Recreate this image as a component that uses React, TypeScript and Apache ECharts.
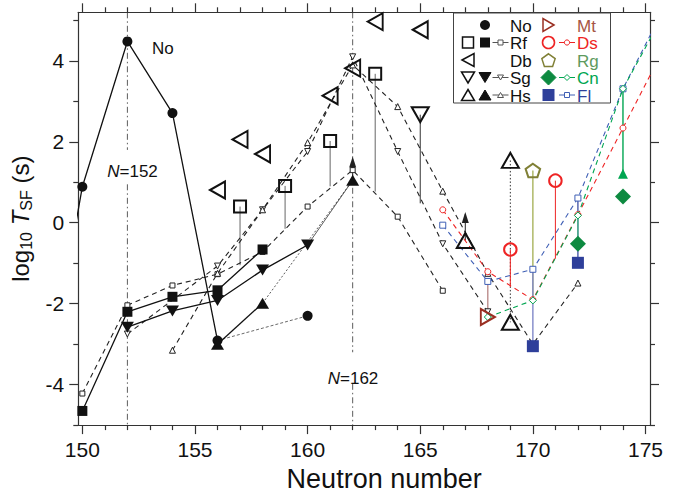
import React, { useEffect, useRef } from 'react';
import * as echarts from 'echarts';

const FONT = "'Liberation Sans', Arial, Helvetica, sans-serif";

// axis ticks
const xMajor = [150, 155, 160, 165, 170, 175];
const xMinor = [151, 152, 153, 154, 156, 157, 158, 159, 161, 162, 163, 164, 166, 167, 168, 169, 171, 172, 173, 174];
const yMajor = [-4, -2, 0, 2, 4];
const yMinor = [-5, -3, -1, 1, 3, 5];

// No (Z=102)
const noLine = [[148, -5.4], [150, 0.89], [152, 4.48], [154, 2.71], [156, -2.91]];
const noTail = [[156, -2.91], [160, -2.3]];

// Rf (Z=104)
const rfFilled = [[150, -4.65], [152, -2.2], [154, -1.83], [156, -1.67], [158, -0.66]];
const rfTheory = [[150, -4.22], [152, -2.04], [154, -1.55], [156, -1.27], [158, -0.72], [160, 0.4], [162, 1.3], [164, 0.15], [166, -1.68]];
const rfOpen = [[157, 0.4], [159, 0.91], [161, 2.02], [163, 3.68]];
const rfLinks = [[157, 0.4, -1.05], [159, 0.91, -0.15], [161, 2.02, 0.9], [163, 3.68, 0.77]];

// Db (Z=105)
const dbOpen = [[156, 0.81], [157, 2.06], [158, 1.7], [161, 3.14], [162, 3.82], [163, 4.97], [165, 4.77]];

// Sg (Z=106)
const sgFilled = [[152, -2.58], [154, -2.18], [156, -1.92], [158, -1.17], [160, -0.55]];
const sgFilledTail = [[160, -0.55], [162, 1.05]];
const sgTheory = [[152, -2.75], [156, -1.07], [158, 0.32], [160, 1.76], [162, 4.1], [164, 1.76], [166, -0.52], [168, -2.2]];
const sgOpen = [[165, 2.67]];
const sgLinks = [[165, 2.67, 0.48]];

// Hs (Z=108)
const hsFilled = [[156, -3.0], [158, -1.99]];
const hsFilledTail = [[158, -1.99], [162, 1.05]];
const hsFilledPt = [[162, 1.05]];
const hsTheory = [[154, -3.15], [156, -1.25], [158, 0.32], [160, 1.98], [162, 3.9], [164, 2.87], [166, 0.78], [168, -1.25], [170, -3.0], [172, -1.49]];
const hsOpen = [[167, -0.44], [169, 1.54], [169, -2.46]];
const hsArrows = [[162, 1.05, 1.58], [167, -0.44, 0.21]];
const hsDotted = [[169, 1.54, -2.46]];

// Mt (Z=109)
const mtOpen = [[168, -2.33]];
const mtLinks = [[168, -2.33, -1.45]];

// Ds (Z=110)
const dsOpen = [[169, -0.66], [171, 1.04]];
const dsTheory = [[166, 0.32], [168, -1.21], [170, -1.9], [172, 0.2], [174, 2.34], [176, 4.5]];
const dsLinks = [[169, -0.66, -1.58], [171, 1.04, -0.89]];

// Rg (Z=111)
const rgOpen = [[170, 1.29]];
const rgLinks = [[170, 1.29, -1.85]];

// Cn (Z=112)
const cnFilled = [[172, -0.52], [174, 0.65]];
const cnTri = [[174, 1.21]];
const cnTheory = [[168, -2.33], [170, -1.92], [172, 0.18], [174, 3.31], [176, 5.35]];
const cnLinks = [[172, -0.52, 0.18], [174, 1.21, 3.31]];

// Fl (Z=114)
const flFilled = [[170, -3.05], [172, -0.99]];
const flTheory = [[166, -0.06], [168, -1.45], [170, -1.15], [172, 0.61], [174, 3.31], [176, 5.5]];
const flLinks = [[170, -3.05, -1.15], [172, -0.99, 0.61]];

const magicN = [152, 162];

const XMIN = 149.82, XMAX = 175.2, YMIN = -5, YMAX = 5.2;

const C = {
  black: '#111',
  gray: '#666',
  mt: '#9a2f22',
  mtText: '#a65544',
  mtLink: '#b07a78',
  ds: '#ee2424',
  rg: '#808036',
  rgText: '#5e9a5e',
  rgLink: '#a9b45e',
  cn: '#00a651',
  cnFill: '#0d8a40',
  fl: '#2e3f9a',
  flLine: '#3f5fb5',
  flLink: '#8088c8',
};

const PENT = 'path://M50,0 L97.55,34.55 L79.39,90.45 L20.61,90.45 L2.45,34.55 Z';
const NONE = 'rgba(255,255,255,0)';

function scatter(data: number[][], symbol: string, size: any, fill: string, stroke: string, bw: number, rotate = 0, z = 6) {
  return {
    type: 'scatter', data, symbol, symbolSize: size, symbolRotate: rotate, silent: true, z,
    itemStyle: { color: fill, borderColor: stroke, borderWidth: bw, opacity: 1 },
  };
}

function line(data: number[][], color: string, width: number, type: any, z = 3) {
  return {
    type: 'line', data, symbol: 'none', silent: true, z,
    lineStyle: { color, width, type },
  };
}

function markedLine(data: number[][], color: string, symbol: string, size: number, rotate = 0, z = 4) {
  return {
    type: 'line', data, symbol, symbolSize: size, symbolRotate: rotate, showSymbol: true, silent: true, z,
    lineStyle: { color, width: 1.1, type: [5, 4] },
    itemStyle: { color: '#fff', borderColor: color, borderWidth: 1 },
  };
}

function links(arr: number[][], color: string, width = 1, type: any = 'solid') {
  return arr.map(([x, a, b]) => line([[x, a], [x, b]], color, width, type, 2));
}

function tri(cx: number, cy: number, w: number, h: number, dir: string) {
  if (dir === 'up') return [[cx, cy - h / 2], [cx + w / 2, cy + h / 2], [cx - w / 2, cy + h / 2]];
  if (dir === 'down') return [[cx, cy + h / 2], [cx + w / 2, cy - h / 2], [cx - w / 2, cy - h / 2]];
  if (dir === 'left') return [[cx - w / 2, cy], [cx + w / 2, cy - h / 2], [cx + w / 2, cy + h / 2]];
  return [[cx + w / 2, cy], [cx - w / 2, cy - h / 2], [cx - w / 2, cy + h / 2]];
}

function buildLegend() {
  const g: any[] = [];
  const Z = 20;
  const rows = [25, 42.5, 60, 77.5, 95];
  g.push({ type: 'rect', shape: { x: 453.5, y: 13, width: 157, height: 90 }, style: { fill: '#fff', stroke: '#444', lineWidth: 1 }, z: Z });
  const txt = (x: number, y: number, t: string, fill: string) => ({
    type: 'text', x, y, z: Z + 1,
    style: { text: t, fill, fontSize: 17, fontFamily: FONT, align: 'left', verticalAlign: 'middle' },
  });
  const poly = (pts: number[][], fill: string, stroke: string, lw: number) => ({
    type: 'polygon', shape: { points: pts }, style: { fill, stroke, lineWidth: lw }, z: Z + 1,
  });
  const seg = (x1: number, x2: number, y: number, color: string) => ({
    type: 'line', shape: { x1, y1: y, x2, y2: y }, style: { stroke: color, lineWidth: 1 }, z: Z + 1,
  });
  // left column
  const xo = 468, xf = 485, xs = 500.5, xl = 510;
  g.push({ type: 'circle', shape: { cx: xf, cy: rows[0], r: 5 }, style: { fill: C.black }, z: Z + 1 });
  g.push(txt(xl, rows[0] + 1, 'No', C.black));
  g.push({ type: 'rect', shape: { x: xo - 5.5, y: rows[1] - 5.5, width: 11, height: 11 }, style: { fill: '#fff', stroke: C.black, lineWidth: 1.5 }, z: Z + 1 });
  g.push({ type: 'rect', shape: { x: xf - 5, y: rows[1] - 5, width: 10, height: 10 }, style: { fill: C.black }, z: Z + 1 });
  g.push(seg(492.5, 508.5, rows[1], '#555'));
  g.push({ type: 'rect', shape: { x: xs - 2.5, y: rows[1] - 2.5, width: 5, height: 5 }, style: { fill: '#fff', stroke: '#555', lineWidth: 1 }, z: Z + 2 });
  g.push(txt(xl, rows[1] + 1, 'Rf', C.black));
  g.push(poly(tri(xo, rows[2], 12, 13, 'left'), '#fff', C.black, 1.5));
  g.push(txt(xl, rows[2] + 1, 'Db', C.black));
  g.push(poly(tri(xo, rows[3], 13, 11, 'down'), '#fff', C.black, 1.5));
  g.push(poly(tri(xf, rows[3], 12, 10, 'down'), C.black, C.black, 1));
  g.push(seg(492.5, 508.5, rows[3], '#555'));
  g.push(poly(tri(xs, rows[3], 6, 5, 'down'), '#fff', '#555', 1));
  g.push(txt(xl, rows[3] + 1, 'Sg', C.black));
  g.push(poly(tri(xo, rows[4], 13, 11, 'up'), '#fff', C.black, 1.5));
  g.push(poly(tri(xf, rows[4], 12, 10, 'up'), C.black, C.black, 1));
  g.push(seg(492.5, 508.5, rows[4], '#555'));
  g.push(poly(tri(xs, rows[4], 6, 5, 'up'), '#fff', '#555', 1));
  g.push(txt(xl, rows[4] + 1, 'Hs', C.black));
  // right column
  const xo2 = 548.5, xs2 = 567, xl2 = 577;
  g.push(poly(tri(xo2, rows[0], 11, 13, 'right'), '#fff', C.mt, 1.5));
  g.push(txt(xl2, rows[0] + 1, 'Mt', C.mtText));
  g.push({ type: 'circle', shape: { cx: xo2, cy: rows[1], r: 6 }, style: { fill: '#fff', stroke: C.ds, lineWidth: 1.6 }, z: Z + 1 });
  g.push(seg(559, 575, rows[1], C.ds));
  g.push({ type: 'circle', shape: { cx: xs2, cy: rows[1], r: 2.6 }, style: { fill: '#fff', stroke: C.ds, lineWidth: 1 }, z: Z + 2 });
  g.push(txt(xl2, rows[1] + 1, 'Ds', C.ds));
  const pent = [0, 1, 2, 3, 4].map(i => {
    const a = -Math.PI / 2 + i * 2 * Math.PI / 5;
    return [xo2 + 7 * Math.cos(a), rows[2] + 0.8 + 7 * Math.sin(a)];
  });
  g.push(poly(pent, '#fff', C.rg, 1.5));
  g.push(txt(xl2, rows[2] + 1, 'Rg', C.rgText));
  g.push(poly([[xo2, rows[3] - 7.5], [xo2 + 7.5, rows[3]], [xo2, rows[3] + 7.5], [xo2 - 7.5, rows[3]]], C.cnFill, C.cnFill, 1));
  g.push(seg(559, 575, rows[3], C.cn));
  g.push(poly([[xs2, rows[3] - 3], [xs2 + 3, rows[3]], [xs2, rows[3] + 3], [xs2 - 3, rows[3]]], '#fff', C.cn, 1));
  g.push(txt(xl2, rows[3] + 1, 'Cn', C.cn));
  g.push({ type: 'rect', shape: { x: xo2 - 6, y: rows[4] - 6, width: 12, height: 12 }, style: { fill: C.fl }, z: Z + 1 });
  g.push(seg(559, 575, rows[4], C.flLine));
  g.push({ type: 'rect', shape: { x: xs2 - 2.5, y: rows[4] - 2.5, width: 5, height: 5 }, style: { fill: '#fff', stroke: C.flLine, lineWidth: 1 }, z: Z + 2 });
  g.push(txt(xl2, rows[4] + 1, 'Fl', C.fl));

  // annotations
  g.push({ type: 'text', x: 152, y: 48, z: 10, style: { text: 'No', fill: C.black, fontSize: 17, fontFamily: FONT, align: 'left', verticalAlign: 'middle' } });
  const nLabel = (x: number, y: number, v: string) => ({
    type: 'text', x, y, z: 10,
    style: {
      text: '{i|N}{r|=' + v + '}', fill: C.black, fontSize: 17, fontFamily: FONT, align: 'center', verticalAlign: 'middle',
      rich: { i: { fontStyle: 'italic', fontSize: 17, fontFamily: FONT, fill: C.black }, r: { fontSize: 17, fontFamily: FONT, fill: C.black } },
    },
  });
  g.push(nLabel(132.5, 171, '152'));
  g.push(nLabel(353, 378, '162'));
  return g;
}

function axisX(pos: string, major: boolean, extra: any = {}) {
  return {
    type: 'value', min: XMIN, max: XMAX, position: pos,
    axisLine: { show: major, onZero: false, lineStyle: { color: '#333', width: 1.2 } },
    axisTick: { show: true, inside: false, length: major ? 9 : 5, customValues: major ? xMajor : xMinor, lineStyle: { color: '#333', width: 1.2 } },
    axisLabel: { show: false },
    splitLine: { show: false },
    ...extra,
  };
}
function axisY(pos: string, major: boolean, extra: any = {}) {
  return {
    type: 'value', min: YMIN, max: YMAX, position: pos,
    axisLine: { show: major, onZero: false, lineStyle: { color: '#333', width: 1.2 } },
    axisTick: { show: true, inside: false, length: major ? 9 : 5, customValues: major ? yMajor : yMinor, lineStyle: { color: '#333', width: 1.2 } },
    axisLabel: { show: false },
    splitLine: { show: false },
    ...extra,
  };
}

export default function App() {
  const ref = useRef<HTMLDivElement>(null);
  useEffect(() => {
    if (!ref.current) return;
    const chart = echarts.init(ref.current, null, { renderer: 'svg' });
    const series: any[] = [];
    // magic number guide lines (dash-dot, with gaps for labels)
    series.push(line([[magicN[0], YMAX], [magicN[0], 1.8]], '#333', 0.8, [6, 3, 1.5, 3], 1));
    series.push(line([[magicN[0], 0.95], [magicN[0], YMIN]], '#333', 0.8, [6, 3, 1.5, 3], 1));
    series.push(line([[magicN[1], YMAX], [magicN[1], -3.2]], '#333', 0.8, [6, 3, 1.5, 3], 1));
    series.push(line([[magicN[1], -3.98], [magicN[1], YMIN]], '#333', 0.8, [6, 3, 1.5, 3], 1));

    // connectors
    series.push(...links(rfLinks, C.gray, 1));
    series.push(...links(sgLinks, '#333', 1));
    series.push(...links(hsDotted, '#333', 1, [1.5, 2]));
    series.push(...links(mtLinks, C.mtLink, 1.2));
    series.push(...links(dsLinks, C.ds, 1));
    series.push(...links(rgLinks, C.rgLink, 1.4));
    series.push(...links([flLinks[0]], C.flLink, 1.4));
    series.push(...links([flLinks[1]], C.fl, 1.2));
    series.push(...links([cnLinks[0]], '#45c080', 1.2));
    series.push(...links([cnLinks[1]], C.cn, 1.4));
    series.push(...links(hsArrows, '#222', 1));
    series.push(scatter(hsArrows.map(([x, a, b]) => [x, b - 0.08]), 'triangle', [7, 11], '#222', '#222', 0, 0, 5));

    // theory dashed lines
    series.push(markedLine(rfTheory, '#222', 'rect', 5));
    series.push(markedLine(sgTheory, '#222', 'triangle', 6, 180));
    series.push(markedLine(hsTheory, '#222', 'triangle', 6, 0));
    series.push(markedLine(dsTheory, C.ds, 'circle', 6));
    series.push(markedLine(flTheory, C.flLine, 'rect', 6));
    series.push(markedLine(cnTheory, C.cn, 'diamond', 7));

    // solid experimental lines
    series.push({ type: 'line', data: noLine, symbol: 'circle', symbolSize: 10, showSymbol: true, silent: true, z: 5, lineStyle: { color: C.black, width: 1.3 }, itemStyle: { color: C.black } });
    series.push(line(noTail, '#444', 0.8, [3, 2], 4));
    series.push(scatter([noTail[1]], 'circle', 10, C.black, C.black, 0));
    series.push({ type: 'line', data: rfFilled, symbol: 'rect', symbolSize: 10, showSymbol: true, silent: true, z: 5, lineStyle: { color: C.black, width: 1.3 }, itemStyle: { color: C.black } });
    series.push({ type: 'line', data: sgFilled, symbol: 'triangle', symbolRotate: 180, symbolSize: [13, 11], showSymbol: true, silent: true, z: 5, lineStyle: { color: C.black, width: 1.3 }, itemStyle: { color: C.black } });
    series.push(line(sgFilledTail, '#333', 0.8, 'solid', 4));
    series.push({ type: 'line', data: hsFilled, symbol: 'triangle', symbolSize: [13, 11], showSymbol: true, silent: true, z: 5, lineStyle: { color: C.black, width: 1.3 }, itemStyle: { color: C.black } });
    series.push(line(hsFilledTail, '#333', 0.8, [2, 2], 4));
    series.push(scatter(hsFilledPt, 'triangle', [13, 11], C.black, C.black, 0));

    // big open experimental markers
    series.push(scatter(rfOpen, 'rect', 12, NONE, C.black, 2));
    series.push(scatter(dbOpen, 'triangle', [17, 15], NONE, C.black, 2, 90));
    series.push(scatter(sgOpen, 'triangle', [17, 15], NONE, C.black, 2, 180));
    series.push(scatter(hsOpen, 'triangle', [17, 15], NONE, C.black, 2, 0));
    series.push(scatter(mtOpen, 'triangle', [16, 14], NONE, C.mt, 2, -90));
    series.push(scatter(dsOpen, 'circle', 12.5, NONE, C.ds, 2));
    series.push(scatter(rgOpen, PENT, [14.5, 13.5], NONE, C.rg, 2));
    series.push(scatter(cnFilled, 'diamond', [16, 16], C.cnFill, C.cnFill, 0));
    series.push(scatter(cnTri, 'triangle', [10, 10], C.cn, C.cn, 0));
    series.push(scatter(flFilled, 'rect', 12, C.fl, C.fl, 0));

    const option: any = {
      animation: false,
      backgroundColor: '#fff',
      grid: { left: 78.3, right: 29, top: 12.3, bottom: 64.7 },
      xAxis: [
        axisX('bottom', true, {
          axisLabel: { show: true, customValues: xMajor, margin: 14, fontSize: 21, color: C.black, fontFamily: FONT },
          name: 'Neutron number', nameLocation: 'middle', nameGap: 30,
          nameTextStyle: { fontSize: 27, color: C.black, fontFamily: FONT, padding: [0, 0, 0, 40] },
        }),
        axisX('bottom', false),
        axisX('top', true),
        axisX('top', false),
      ],
      yAxis: [
        axisY('left', true, {
          axisLabel: { show: true, customValues: yMajor, margin: 14, fontSize: 21, color: C.black, fontFamily: FONT },
          name: '{a|log}{b|10}{a| }{c|T}{b|SF}{a| (s)}', nameLocation: 'middle', nameGap: 36, nameRotate: 90,
          nameTextStyle: {
            color: C.black, fontFamily: FONT, fontSize: 24,
            rich: {
              a: { fontSize: 24, lineHeight: 28, fontFamily: FONT, color: C.black },
              c: { fontSize: 24, lineHeight: 28, fontStyle: 'italic', fontFamily: FONT, color: C.black },
              b: { fontSize: 16, lineHeight: 16, verticalAlign: 'bottom', fontFamily: FONT, color: C.black },
            },
          },
        }),
        axisY('left', false),
        axisY('right', true),
        axisY('right', false),
      ],
      series,
      graphic: buildLegend(),
    };
    chart.setOption(option);
    return () => chart.dispose();
  }, []);
  return <div ref={ref} style={{ position: 'fixed', left: 0, top: 0, width: 679, height: 497, background: '#fff' }} />;
}
